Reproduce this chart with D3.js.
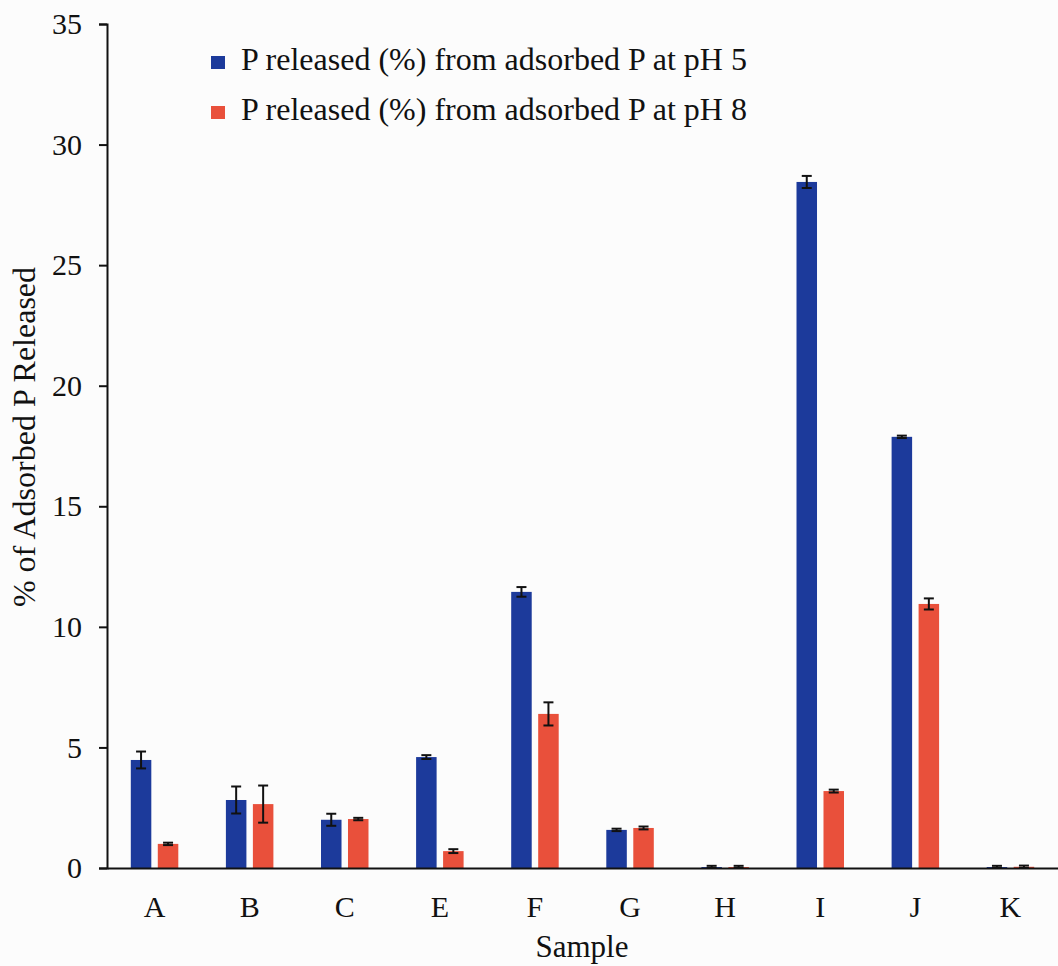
<!DOCTYPE html>
<html>
<head>
<meta charset="utf-8">
<script src="https://cdn.jsdelivr.net/npm/d3@7"></script>
<style>
  body { margin: 0; background: #fcfcfc; }
  text { font-family: "Liberation Serif", "Times New Roman", serif; fill: #111; }
</style>
</head>
<body>
<svg id="chart" width="1058" height="966"></svg>
<script>
// Dati
var samples = ["A", "B", "C", "E", "F", "G", "H", "I", "J", "K"];
var seriesNames = ["P released (%) from adsorbed P at pH 5", "P released (%) from adsorbed P at pH 8"];
var ph5 = [4.48, 2.82, 2.0, 4.6, 11.45, 1.58, 0.04, 28.45, 17.88, 0.04];
var ph5Err = [0.35, 0.56, 0.25, 0.08, 0.2, 0.05, 0.05, 0.25, 0.05, 0.05];
var ph8 = [1.0, 2.65, 2.03, 0.7, 6.39, 1.66, 0.04, 3.19, 10.95, 0.05];
var ph8Err = [0.05, 0.77, 0.05, 0.08, 0.48, 0.06, 0.05, 0.06, 0.23, 0.05];
var yTicks = [0, 5, 10, 15, 20, 25, 30, 35];
var colors = ["#1c3a9b", "#e9503b"];

var svg = d3.select("#chart");

// Area di disegno
var mLeft = 107, mRight = 1058, mTop = 24, mBottom = 868;

var x0 = d3.scaleBand().domain(samples).range([mLeft, mRight]).padding(0);
var bw = x0.bandwidth();
var x1 = d3.scaleBand().domain([0, 1])
  .range([bw / 2 - 23.75, bw / 2 + 23.75])
  .paddingInner(0.24).paddingOuter(0);
var y = d3.scaleLinear().domain([0, 35]).range([mBottom, mTop]);

var rows = samples.map(function(s, i) {
  return { name: s, vals: [
    { k: 0, v: ph5[i], e: ph5Err[i] },
    { k: 1, v: ph8[i], e: ph8Err[i] }
  ]};
});

// Barre
var groups = svg.selectAll("g.grp")
  .data(rows)
  .enter().append("g")
  .attr("class", "grp")
  .attr("transform", function(d) { return "translate(" + x0(d.name) + ",0)"; });

groups.selectAll("rect")
  .data(function(d) { return d.vals; })
  .enter().append("rect")
  .attr("x", function(d) { return x1(d.k); })
  .attr("width", x1.bandwidth())
  .attr("y", function(d) { return y(d.v); })
  .attr("height", function(d) { return mBottom - y(d.v); })
  .attr("fill", function(d) { return colors[d.k]; });

// Barre di errore
var eb = groups.selectAll("g.err")
  .data(function(d) { return d.vals; })
  .enter().append("g")
  .attr("class", "err")
  .attr("stroke", "#111")
  .attr("stroke-width", 2);

eb.append("line")
  .attr("x1", function(d) { return x1(d.k) + x1.bandwidth() / 2; })
  .attr("x2", function(d) { return x1(d.k) + x1.bandwidth() / 2; })
  .attr("y1", function(d) { return y(d.v + d.e); })
  .attr("y2", function(d) { return y(Math.max(0, d.v - d.e)); });

[1, -1].forEach(function(sgn) {
  eb.append("line")
    .attr("x1", function(d) { return x1(d.k) + x1.bandwidth() / 2 - 5; })
    .attr("x2", function(d) { return x1(d.k) + x1.bandwidth() / 2 + 5; })
    .attr("y1", function(d) { return y(Math.max(0, d.v + sgn * d.e)); })
    .attr("y2", function(d) { return y(Math.max(0, d.v + sgn * d.e)); });
});

// Assi
var yAxis = svg.append("g")
  .attr("transform", "translate(" + mLeft + ",0)")
  .call(d3.axisLeft(y).tickValues(yTicks).tickSize(8).tickSizeOuter(8).tickPadding(17));
yAxis.selectAll("path, line").attr("stroke", "#111").attr("stroke-width", 2);
yAxis.selectAll("text").style("font-size", "30px").attr("fill", "#111")
  .style("font-family", "'Liberation Serif', serif");

var xAxis = svg.append("g")
  .attr("transform", "translate(0," + mBottom + ")")
  .call(d3.axisBottom(x0).tickSize(0).tickSizeOuter(0).tickPadding(28));
xAxis.select("path").attr("stroke", "#111").attr("stroke-width", 2);
xAxis.selectAll("text").style("font-size", "30px").attr("fill", "#111")
  .style("font-family", "'Liberation Serif', serif");

// Titoli degli assi
svg.append("text")
  .attr("x", 582).attr("y", 957)
  .attr("text-anchor", "middle")
  .style("font-size", "31px")
  .text("Sample");

svg.append("text")
  .attr("transform", "translate(35,437) rotate(-90)")
  .attr("text-anchor", "middle")
  .style("font-size", "32px")
  .text("% of Adsorbed P Released");

// Legenda
var leg = svg.selectAll("g.leg")
  .data(seriesNames)
  .enter().append("g")
  .attr("class", "leg")
  .attr("transform", function(d, i) { return "translate(211," + (56 + i * 50) + ")"; });

leg.append("rect")
  .attr("width", 14).attr("height", 13)
  .attr("fill", function(d, i) { return colors[i]; });

leg.append("text")
  .attr("x", 30).attr("y", 14)
  .style("font-size", "32px")
  .text(function(d) { return d; });
</script>
</body>
</html>
